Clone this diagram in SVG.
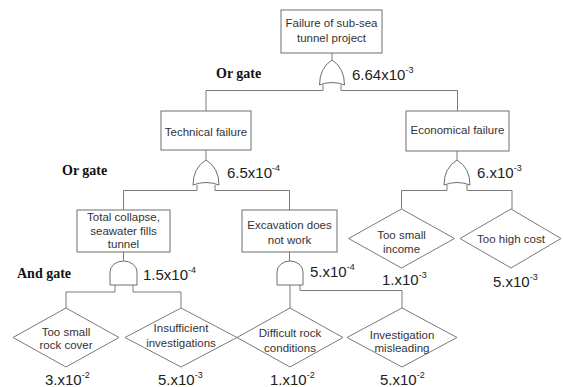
<svg xmlns="http://www.w3.org/2000/svg" width="563" height="387" viewBox="0 0 563 387">
<style>
.box{fill:#fff;stroke:#6e6e6e;stroke-width:1}
.dia{fill:#fff;stroke:#7a7a7a;stroke-width:1}
.gate{fill:#fff;stroke:#6e6e6e;stroke-width:1}
.ln{fill:none;stroke:#7a7a7a;stroke-width:1}
.t{font-family:"Liberation Sans",Arial,sans-serif;font-size:11.5px;fill:#333;text-anchor:middle}
.v{font-family:"Liberation Sans",Arial,sans-serif;font-size:15px;fill:#222}
.s{font-size:9px}
.g{font-family:"Liberation Serif","Times New Roman",serif;font-size:14px;font-weight:bold;fill:#111}
</style>
<rect width="563" height="387" fill="#fff"/>
<g id="connectors">
<path class="ln" d="M332,53 V60"/>
<path class="ln" d="M206,111 V90.5 H323 V85 M341,85 V90.5 H457.5 V111"/>
<path class="ln" d="M206,150 V160"/>
<path class="ln" d="M123.5,210 V190.5 H197 V185 M215,185 V190.5 H289.5 V210"/>
<path class="ln" d="M457,151 V160"/>
<path class="ln" d="M401.5,209 V190.5 H447 V185 M467,185 V190.5 H512 V209"/>
<path class="ln" d="M123.5,252 V261"/>
<path class="ln" d="M66,308 V292 H115 V285 M133,285 V292 H181 V308"/>
<path class="ln" d="M289.5,252 V261"/>
<path class="ln" d="M290,285 V308 M300,285 V290.5 H402 V308"/>
</g>
<g id="top">
<rect class="box" x="281" y="10" width="101" height="43"/>
<text class="t" x="331.5" y="27">Failure of sub-sea</text>
<text class="t" x="331.5" y="42">tunnel project</text>
</g>
<g id="gate-top">
<path class="gate" d="M332,60 Q344.5,68 344.5,85 Q332,80 319.5,85 Q319.5,68 332,60 Z"/>
<text class="g" x="216" y="78">Or gate</text>
<text class="v" x="352" y="80">6.64x10<tspan class="s" dy="-7">-3</tspan></text>
</g>
<g id="technical">
<rect class="box" x="161" y="111" width="90" height="39"/>
<text class="t" x="206" y="136">Technical failure</text>
</g>
<g id="gate-technical">
<path class="gate" d="M206,160 Q219,168 219,185 Q206,180 193,185 Q193,168 206,160 Z"/>
<text class="g" x="62" y="175">Or gate</text>
<text class="v" x="227" y="178">6.5x10<tspan class="s" dy="-7">-4</tspan></text>
</g>
<g id="economical">
<rect class="box" x="406" y="111" width="103" height="40"/>
<text class="t" x="457.5" y="134">Economical failure</text>
</g>
<g id="gate-economical">
<path class="gate" d="M457,160 Q470,168 470,185 Q457,180 444,185 Q444,168 457,160 Z"/>
<text class="v" x="477" y="178">6.x10<tspan class="s" dy="-7">-3</tspan></text>
</g>
<g id="collapse">
<rect class="box" x="77" y="210" width="93" height="42"/>
<text class="t" x="123.5" y="221">Total collapse,</text>
<text class="t" x="123.5" y="235">seawater fills</text>
<text class="t" x="123.5" y="248">tunnel</text>
</g>
<g id="gate-collapse">
<path class="gate" d="M110,285 V272 A13.5,11 0 0 1 137,272 V285 Z"/>
<text class="g" x="17" y="278">And gate</text>
<text class="v" x="143" y="280">1.5x10<tspan class="s" dy="-7">-4</tspan></text>
</g>
<g id="excavation">
<rect class="box" x="242" y="210" width="95" height="42"/>
<text class="t" x="289.5" y="229">Excavation does</text>
<text class="t" x="289.5" y="244">not work</text>
</g>
<g id="gate-excavation">
<path class="gate" d="M277,285 V272 A13,11 0 0 1 303,272 V285 Z"/>
<text class="v" x="310" y="277">5.x10<tspan class="s" dy="-7">-4</tspan></text>
</g>
<g id="small-income">
<polygon class="dia" points="401.5,209 454.5,238.5 401.5,268 348.5,238.5"/>
<text class="t" x="401.5" y="239">Too small</text>
<text class="t" x="401.5" y="253">income</text>
<text class="v" x="382" y="285">1.x10<tspan class="s" dy="-7">-3</tspan></text>
</g>
<g id="high-cost">
<polygon class="dia" points="511,209 561,238.5 511,268 460,238.5"/>
<text class="t" x="511" y="243">Too high cost</text>
<text class="v" x="493" y="287">5.x10<tspan class="s" dy="-7">-3</tspan></text>
</g>
<g id="rock-cover">
<polygon class="dia" points="66,308 119,337.5 66,367 13,337.5"/>
<text class="t" x="66" y="336">Too small</text>
<text class="t" x="66" y="349">rock cover</text>
<text class="v" x="45" y="385">3.x10<tspan class="s" dy="-7">-2</tspan></text>
</g>
<g id="insufficient">
<polygon class="dia" points="181,308 237,337.5 181,367 125,337.5"/>
<text class="t" x="181" y="332">Insufficient</text>
<text class="t" x="181" y="347">investigations</text>
<text class="v" x="158" y="385">5.x10<tspan class="s" dy="-7">-3</tspan></text>
</g>
<g id="difficult">
<polygon class="dia" points="290,308 343,337.5 290,367 237,337.5"/>
<text class="t" x="290" y="337">Difficult rock</text>
<text class="t" x="290" y="352">conditions</text>
<text class="v" x="270" y="385">1.x10<tspan class="s" dy="-7">-2</tspan></text>
</g>
<g id="misleading">
<polygon class="dia" points="402,308 457,337.5 402,367 347,337.5"/>
<text class="t" x="402" y="339">Investigation</text>
<text class="t" x="402" y="352">misleading</text>
<text class="v" x="380" y="385">5.x10<tspan class="s" dy="-7">-2</tspan></text>
</g>
</svg>
